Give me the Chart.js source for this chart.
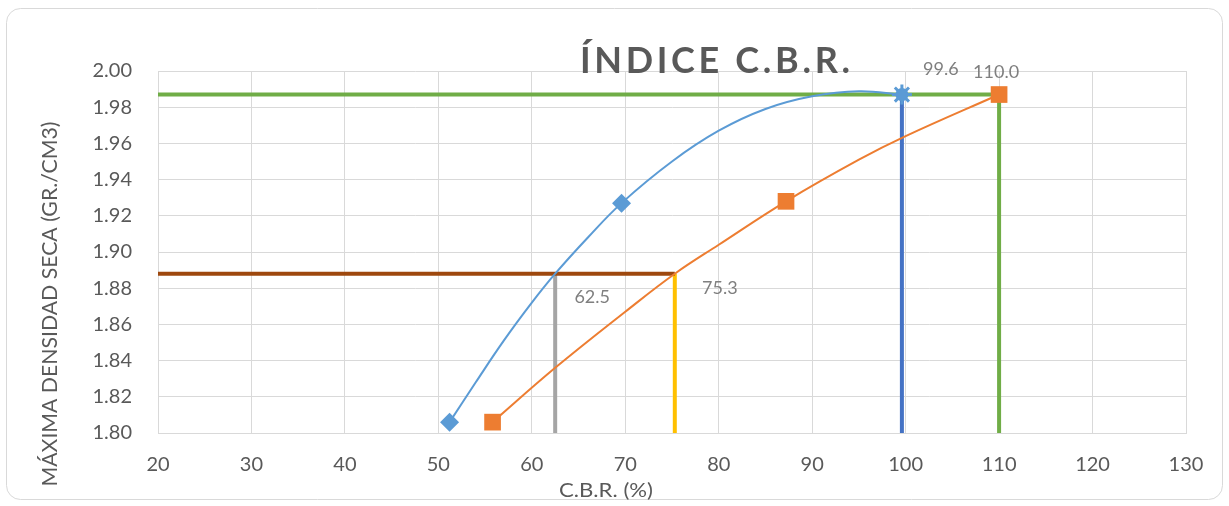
<!DOCTYPE html>
<html>
<head>
<meta charset="utf-8">
<script src="https://cdn.jsdelivr.net/npm/chart.js@4"></script>
<style>
html,body{margin:0;padding:0;background:#fff;}
canvas{display:block;}
</style>
</head>
<body>
<canvas id="c" width="1229" height="506"></canvas>
<script>
// ---- data ----
const xTicks = [20,30,40,50,60,70,80,90,100,110,120,130];
const yTicks = [1.80,1.82,1.84,1.86,1.88,1.90,1.92,1.94,1.96,1.98,2.00];

// measured points (series 1: blue diamonds, series 2: orange squares)
const cbr1 = [51.2, 69.6, 99.6];
const dens1 = [1.806, 1.927, 1.987];
const cbr2 = [55.8, 87.2, 110.0];
const dens2 = [1.806, 1.928, 1.987];

// trend curves
const trend1X = [51.2, 54, 57, 60, 62.5, 66, 69.6, 75, 80, 85, 90, 95, 99.6];
const trend1Y = [1.806, 1.828, 1.851, 1.872, 1.888, 1.908, 1.927, 1.950, 1.967, 1.979, 1.986, 1.9888, 1.987];
const trend2X = [55.8, 62.5, 70, 75.3, 80, 87.2, 95, 100, 110];
const trend2Y = [1.806, 1.836, 1.867, 1.888, 1.904, 1.928, 1.951, 1.964, 1.987];

// reference values
const densMax = 1.987;      // max dry density
const dens95 = 1.888;       // 95% density
const cbrAt100_1 = 99.6;
const cbrAt100_2 = 110.0;
const cbrAt95_1 = 62.5;
const cbrAt95_2 = 75.3;

const xMin = 20, xMax = 130, yMin = 1.80, yMax = 2.00;

const FONT = 'Lato';
const pts = (xs, ys) => xs.map((x, i) => ({x, y: ys[i]}));

const datasets = [
  // markers (top)
  { data: pts(cbr1, dens1), showLine: false, order: 0,
    pointStyle: ['rectRot','rectRot','star'], pointRadius: [9.5, 9.5, 10],
    backgroundColor: '#5B9BD5', borderColor: '#5B9BD5', borderWidth: [0, 0, 3] },
  { data: [{x: cbr1[2], y: dens1[2]}], showLine: false, order: 0,
    pointStyle: 'circle', pointRadius: 6.5,
    backgroundColor: '#5B9BD5', borderColor: '#5B9BD5', borderWidth: 0 },
  { data: pts(cbr2, dens2), showLine: false, order: 0,
    pointStyle: 'rect', pointRadius: 11.8,
    backgroundColor: '#ED7D31', borderColor: '#ED7D31', borderWidth: 0 },
  // trend curves
  { data: pts(trend1X, trend1Y), showLine: true, order: 1, pointRadius: 0,
    borderColor: '#5B9BD5', borderWidth: 2, tension: 0.4 },
  { data: pts(trend2X, trend2Y), showLine: true, order: 1, pointRadius: 0,
    borderColor: '#ED7D31', borderWidth: 2, tension: 0.4 },
  // reference lines
  { data: [{x: xMin, y: densMax}, {x: cbrAt100_2, y: densMax}, {x: cbrAt100_2, y: yMin}],
    showLine: true, order: 2, pointRadius: 0, borderColor: '#70AD47', borderWidth: 4 },
  { data: [{x: xMin, y: dens95}, {x: cbrAt95_2, y: dens95}],
    showLine: true, order: 2, pointRadius: 0, borderColor: '#9E480E', borderWidth: 4 },
  { data: [{x: cbrAt95_1, y: yMin}, {x: cbrAt95_1, y: dens95}],
    showLine: true, order: 2, pointRadius: 0, borderColor: '#A5A5A5', borderWidth: 4 },
  { data: [{x: cbrAt95_2, y: yMin}, {x: cbrAt95_2, y: dens95}],
    showLine: true, order: 2, pointRadius: 0, borderColor: '#FFC000', borderWidth: 4 },
  { data: [{x: cbrAt100_1, y: yMin}, {x: cbrAt100_1, y: densMax}],
    showLine: true, order: 2, pointRadius: 0, borderColor: '#4472C4', borderWidth: 4 }
];

const labels = [
  { x: cbrAt100_1, y: densMax, dx: 39, dy: -25 },
  { x: cbrAt100_2, y: densMax, dx: -3, dy: -22 },
  { x: cbrAt95_1, y: dens95, dx: 37, dy: 23 },
  { x: cbrAt95_2, y: dens95, dx: 45, dy: 14 }
];

function fitText(ctx, text, cx, cy, width, rot) {
  const w = ctx.measureText(text).width;
  ctx.save();
  ctx.translate(cx, cy);
  if (rot) ctx.rotate(rot);
  ctx.scale(width / w, 1);
  ctx.textAlign = 'center';
  ctx.textBaseline = 'middle';
  ctx.fillText(text, 0, 0);
  ctx.restore();
}

const deco = {
  id: 'deco',
  beforeDraw(chart) {
    const ctx = chart.ctx;
    ctx.save();
    ctx.fillStyle = '#fff';
    ctx.fillRect(0, 0, chart.width, chart.height);
    ctx.restore();
  },
  afterDatasetsDraw(chart) {
    const ctx = chart.ctx, xs = chart.scales.x, ys = chart.scales.y;
    ctx.save();
    ctx.fillStyle = '#7F7F7F';
    ctx.font = '18px ' + FONT;
    ctx.textAlign = 'center';
    ctx.textBaseline = 'middle';
    labels.forEach(l => {
      ctx.fillText(l.x.toFixed(1), xs.getPixelForValue(l.x) + l.dx, ys.getPixelForValue(l.y) + l.dy);
    });
    ctx.restore();
  },
  afterDraw(chart) {
    const ctx = chart.ctx;
    ctx.save();
    // border
    ctx.strokeStyle = '#D9D9D9';
    ctx.lineWidth = 1;
    ctx.beginPath();
    ctx.roundRect(6.5, 8.5, 1216, 491, 14);
    ctx.stroke();
    // title with letter spacing
    ctx.fillStyle = '#595959';
    ctx.font = 'bold 36px ' + FONT;
    const title = 'ÍNDICE C.B.R.';
    const chars = [...title];
    const natural = chars.reduce((s, c) => s + ctx.measureText(c).width, 0);
    const target = 270;
    const sp = (target - natural) / (chars.length - 1);
    let x = 715 - target / 2;
    ctx.textBaseline = 'alphabetic';
    ctx.textAlign = 'left';
    chars.forEach(c => { ctx.fillText(c, x, 73); x += ctx.measureText(c).width + sp; });
    // axis titles
    ctx.fillStyle = '#595959';
    ctx.font = '22px ' + FONT;
    fitText(ctx, 'MÁXIMA DENSIDAD SECA (GR./CM3)', 50, 304, 365, -Math.PI / 2);
    ctx.font = '19px ' + FONT;
    fitText(ctx, 'C.B.R. (%)', 606, 491, 94, 0);
    ctx.restore();
  }
};

new Chart(document.getElementById('c'), {
  type: 'scatter',
  data: { datasets },
  options: {
    responsive: false,
    animation: false,
    layout: { padding: { top: 71, right: 43, left: 0, bottom: 0 } },
    plugins: { legend: { display: false }, tooltip: { enabled: false } },
    scales: {
      x: {
        type: 'linear', min: xMin, max: xMax,
        afterBuildTicks: s => { s.ticks = xTicks.map(v => ({value: v})); },
        afterFit: s => { s.height = 73; },
        grid: { color: '#D9D9D9', lineWidth: 1, drawTicks: false },
        border: { color: '#D9D9D9' },
        ticks: { color: '#595959', font: { family: FONT, size: 20 }, padding: 20,
                 callback: v => String(v) }
      },
      y: {
        type: 'linear', min: yMin, max: yMax,
        afterBuildTicks: s => { s.ticks = yTicks.map(v => ({value: v})); },
        afterFit: s => { s.width = 158; },
        grid: { color: '#D9D9D9', lineWidth: 1, drawTicks: false },
        border: { color: '#D9D9D9' },
        ticks: { color: '#595959', font: { family: FONT, size: 20 }, padding: 26,
                 callback: v => v.toFixed(2) }
      }
    }
  },
  plugins: [deco]
});
</script>
</body>
</html>
